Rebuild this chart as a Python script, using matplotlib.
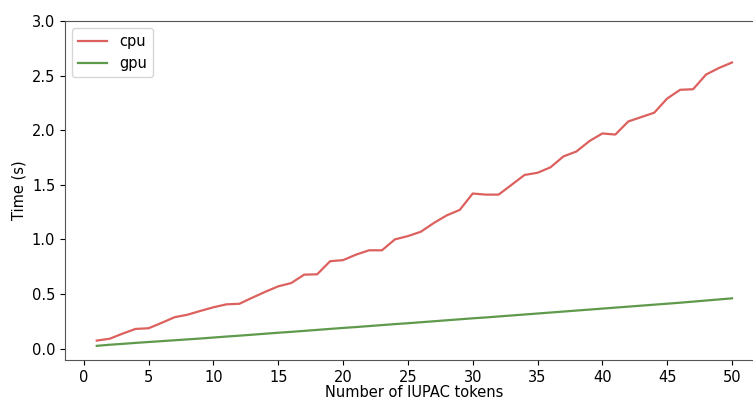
import matplotlib
matplotlib.use("Agg")
import matplotlib.pyplot as plt

tokens = list(range(1, 51))
cpu = [0.073, 0.09, 0.137, 0.18, 0.186, 0.235, 0.287, 0.31, 0.345, 0.378,
       0.405, 0.41, 0.466, 0.52, 0.57, 0.60, 0.677, 0.68, 0.80, 0.81,
       0.86, 0.90, 0.90, 1.0, 1.03, 1.07, 1.15, 1.22, 1.27, 1.42,
       1.41, 1.41, 1.50, 1.59, 1.61, 1.66, 1.76, 1.805, 1.90, 1.97,
       1.96, 2.08, 2.12, 2.16, 2.29, 2.37, 2.375, 2.51, 2.57, 2.62]
gpu = [0.025, 0.035, 0.043, 0.052, 0.060, 0.068, 0.076, 0.084, 0.092, 0.101,
       0.110, 0.118, 0.127, 0.136, 0.145, 0.153, 0.162, 0.171, 0.180, 0.189,
       0.197, 0.206, 0.215, 0.224, 0.232, 0.241, 0.250, 0.259, 0.268, 0.277,
       0.285, 0.294, 0.303, 0.312, 0.321, 0.330, 0.339, 0.348, 0.357, 0.366,
       0.375, 0.384, 0.393, 0.402, 0.411, 0.420, 0.430, 0.440, 0.450, 0.460]

plt.rcParams['font.size'] = 10.5
fig = plt.figure(figsize=(7.53, 4.0), dpi=100)
ax = fig.add_axes([0.0863, 0.1, 0.928, 0.8475])
ax.plot(tokens, cpu, color='#dc615e', lw=1.6, label='cpu')
ax.plot(tokens, gpu, color='#5f9a4c', lw=1.6, label='gpu')
ax.set_ylim(top=3.0)
ax.set_xticks(range(0, 51, 5))
ax.set_xlabel('Number of IUPAC tokens', labelpad=0.5)
ax.set_ylabel('Time (s)')
ax.legend(loc='upper left')
for s in ax.spines.values():
    s.set_color('#555555')
ax.spines['right'].set_visible(False)
fig.savefig('out.png', dpi=100)
